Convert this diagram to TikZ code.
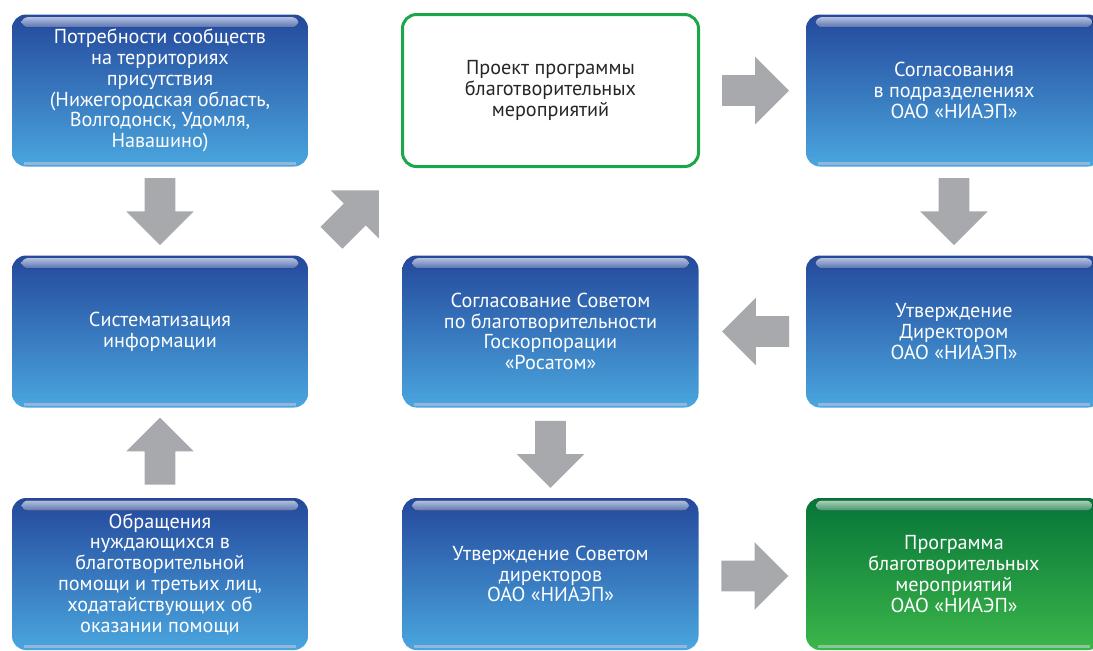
\documentclass[tikz,border=0pt]{standalone}
\usepackage{fontspec}
\setmainfont{PT Sans}
\usetikzlibrary{positioning, shapes.arrows, calc}

\definecolor{boxtop}{RGB}{36,72,156}
\definecolor{boxbot}{RGB}{74,166,222}
\definecolor{greentop}{RGB}{6,116,56}
\definecolor{greenbot}{RGB}{60,182,74}
\definecolor{greenline}{RGB}{28,166,74}
\definecolor{arrowgray}{RGB}{167,169,172}
\definecolor{textgray}{RGB}{38,38,38}

\tikzset{
  stepbox/.style={rectangle, rounded corners=7pt, minimum width=148pt,
    minimum height=76pt, inner sep=0pt, align=center},
  bluebox/.style={stepbox, top color=boxtop, bottom color=boxbot, text=white},
  greenbox/.style={stepbox, top color=greentop, bottom color=greenbot, text=white},
  draftbox/.style={stepbox, fill=white, draw=greenline, line width=1.5pt, text=textgray},
  blockarrow/.style={single arrow, fill=arrowgray, draw=none, single arrow tip angle=90,
    minimum height=33.5pt, single arrow head extend=9.25pt, inner xsep=0pt, inner ysep=7.5pt}
}

\begin{document}
\begin{tikzpicture}[x=0.5pt, y=-0.5pt, font=\fontsize{10.1}{10.4}\selectfont]
  \useasboundingbox (0,0) rectangle (1093,650);
  \clip (0,0) rectangle (1093,650);

  % boxes, pixel grid of the scheme
  \node[bluebox]  (needs)    at (160,90.5)  {Потребности сообществ\\на территориях\\присутствия\\(Нижегородская область,\\Волгодонск, Удомля,\\Навашино)};
  \node[draftbox] (draft)    at (550.5,90.5) {Проект программы\\благотворительных\\мероприятий};
  \node[bluebox]  (agree)    at (954,90.5)  {Согласования\\в подразделениях\\ОАО «НИАЭП»};
  \node[bluebox]  (system)   at (160,331.5) {Систематизация\\информации};
  \node[bluebox]  (council)  at (550.5,331.5) {Согласование Советом\\по благотворительности\\Госкорпорации\\«Росатом»};
  \node[bluebox]  (director) at (954,331.5) {Утверждение\\Директором\\ОАО «НИАЭП»};
  \node[bluebox]  (appeals)  at (160,574)   {Обращения\\нуждающихся в\\благотворительной\\помощи и третьих лиц,\\ходатайствующих об\\оказании помощи};
  \node[bluebox]  (board)    at (550.5,574) {Утверждение Советом\\директоров\\ОАО «НИАЭП»};
  \node[greenbox] (program)  at (954,574)   {Программа\\благотворительных\\мероприятий\\ОАО «НИАЭП»};

  % gloss on top and bottom edges
  \foreach \n/\c in {needs/boxtop, agree/boxtop, system/boxtop, council/boxtop,
      director/boxtop, appeals/boxtop, board/boxtop, program/greentop}{
    \fill[rounded corners=3pt, top color=\c!35!white, bottom color=\c!75!white]
      ($(\n.north west)+(10,3)$) rectangle ($(\n.north east)+(-10,13)$);
    \fill[\c!35!white, opacity=0.7] ($(\n.south west)+(12,-5)$) rectangle ($(\n.south east)+(-12,-2)$);
  }

  % block arrows between the boxes
  \node[blockarrow, rotate=-90] (a1) at ($(needs.south)!0.5!(system.north)+(0,-7)$) {};
  \node[blockarrow, rotate=45]  (a2) at ($(system.north east)!0.5!(draft.south west)+(-5,8)$) {};
  \node[blockarrow]             (a3) at ($(draft.east)!0.5!(agree.west)+(-5,0)$) {};
  \node[blockarrow, rotate=-90] (a4) at ($(agree.south)!0.5!(director.north)+(0,-7)$) {};
  \node[blockarrow, rotate=180] (a5) at ($(director.west)!0.5!(council.east)+(11,0)$) {};
  \node[blockarrow, rotate=-90] (a6) at ($(council.south)!0.5!(board.north)+(0,-6)$) {};
  \node[blockarrow, rotate=90]  (a7) at ($(appeals.north)!0.5!(system.south)+(0,6)$) {};
  \node[blockarrow]             (a8) at ($(board.east)!0.5!(program.west)+(-5,2)$) {};
\end{tikzpicture}
\end{document}
